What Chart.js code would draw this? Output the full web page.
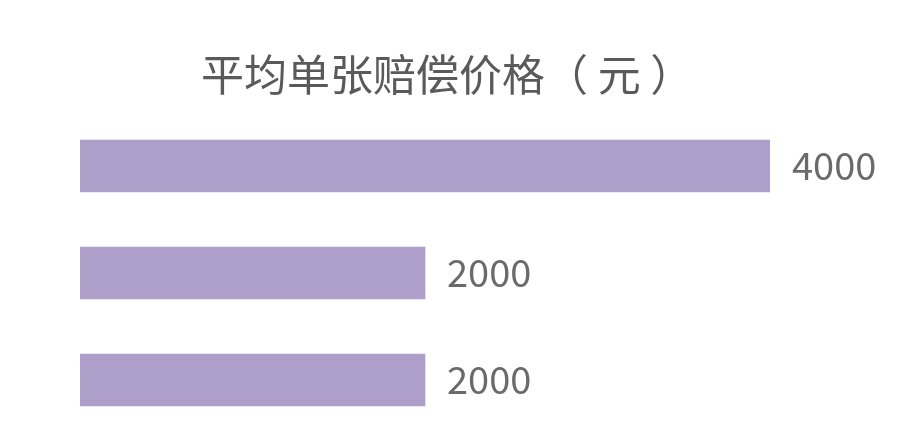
<!DOCTYPE html>
<html>
<head>
<meta charset="utf-8">
<script src="https://cdn.jsdelivr.net/npm/chart.js@4"></script>
<style>
  html, body { margin: 0; padding: 0; background: #ffffff; }
  #wrap { width: 900px; height: 441px; position: relative; }
</style>
</head>
<body>
<div id="wrap"><canvas id="myChart"></canvas></div>
<script>
// chart data
const chartTitle = '平均单张赔偿价格（ 元 ）';
const categories = ['A', 'B', 'C'];
const values = [4000, 2000, 2000];
const valueLabels = ['4000', '2000', '2000'];

// title drawn over the whole picture
const titlePlugin = {
  id: 'bigTitle',
  afterDraw(chart) {
    const ctx = chart.ctx;
    ctx.save();
    ctx.font = '43px "Noto Sans CJK SC", sans-serif';
    ctx.fillStyle = '#5a5a5a';
    ctx.textAlign = 'left';
    ctx.textBaseline = 'middle';
    ctx.fillText(chartTitle, 201, 75);
    ctx.restore();
  }
};

// value labels to the right of each bar
const valuePlugin = {
  id: 'valueLabels',
  afterDatasetsDraw(chart) {
    const ctx = chart.ctx;
    const meta = chart.getDatasetMeta(0);
    ctx.save();
    ctx.font = '38px "Noto Sans CJK SC", "Noto Sans", sans-serif';
    ctx.fillStyle = '#6a6a6a';
    ctx.textAlign = 'left';
    ctx.textBaseline = 'middle';
    meta.data.forEach((bar, i) => {
      ctx.fillText(valueLabels[i], bar.x + 22, bar.y);
    });
    ctx.restore();
  }
};

const ctx = document.getElementById('myChart').getContext('2d');
const myChart = new Chart(ctx, {
  type: 'bar',
  data: {
    labels: categories,
    datasets: [{
      data: values,
      backgroundColor: '#ae9fca',
      borderWidth: 0,
      barThickness: 52
    }]
  },
  options: {
    indexAxis: 'y',
    responsive: true,
    maintainAspectRatio: false,
    animation: false,
    layout: { padding: { left: 80, right: 130, top: 112.5, bottom: 7.5 } },
    plugins: {
      legend: { display: false },
      title: { display: false },
      tooltip: { enabled: false }
    },
    scales: {
      x: { display: false, min: 0, max: 4000 },
      y: { display: false }
    }
  },
  plugins: [titlePlugin, valuePlugin]
});
</script>
</body>
</html>
